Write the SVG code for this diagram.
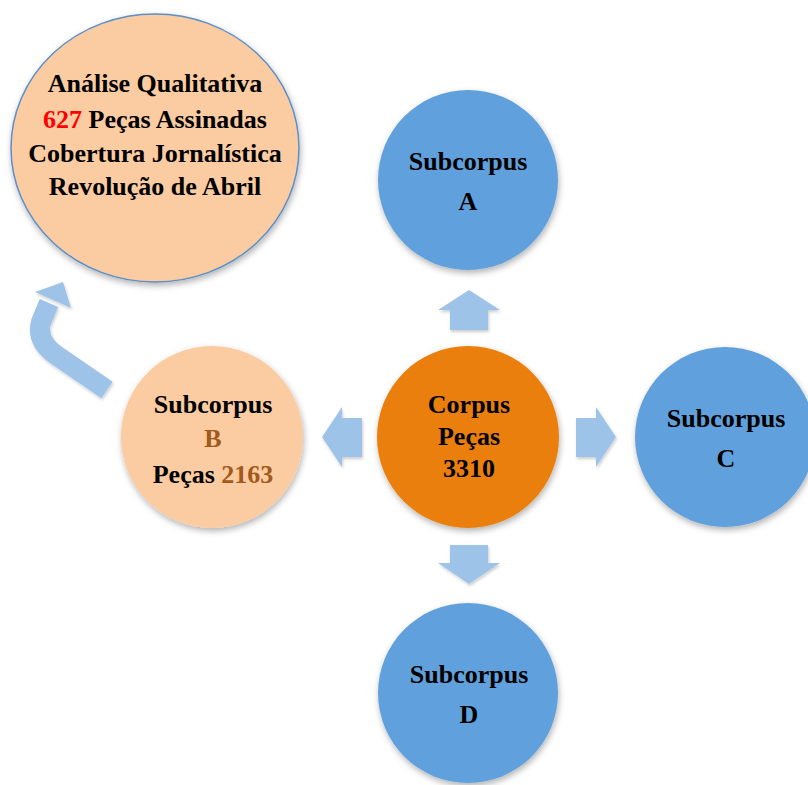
<svg xmlns="http://www.w3.org/2000/svg" width="808" height="785" viewBox="0 0 808 785">
  <defs>
    <filter id="shadow" x="-20%" y="-20%" width="140%" height="140%">
      <feDropShadow dx="1" dy="3" stdDeviation="3" flood-color="#000" flood-opacity="0.3"/>
    </filter>
    <filter id="arrowShadow" x="-20%" y="-20%" width="140%" height="140%">
      <feDropShadow dx="1" dy="2" stdDeviation="1.5" flood-color="#000" flood-opacity="0.2"/>
    </filter>
  </defs>
  <style>
    .lbl { font-family: "Liberation Serif", "Times New Roman", serif; font-weight: bold; font-size: 26px; fill: #000; text-anchor: middle; }
    .blue { fill: #61A0DC; filter: url(#shadow); }
    .peach { fill: #FBCBA1; filter: url(#shadow); }
    .orange { fill: #EA7F08; filter: url(#shadow); }
    .arrow { fill: #9EC3E8; filter: url(#arrowShadow); }
    .red { fill: #FF0000; }
    .brown { fill: #A15A1C; }
  </style>
  <rect width="808" height="785" fill="#FFFFFF"/>

  <!-- connectors -->
  <g id="connectors">
    <polygon class="arrow" points="469,290 500,310 488,310 488,330 450,330 450,310 438,310"/>
    <polygon class="arrow" points="322,437 342,407 342,418 362,418 362,457 342,457 342,467"/>
    <polygon class="arrow" points="616,437 596,407 596,418 576,418 576,457 596,457 596,467"/>
    <polygon class="arrow" points="469,584 500,563 488,563 488,545 450,545 450,563 438,563"/>
    <g filter="url(#arrowShadow)">
      <path d="M107,390 L56,355 Q36,341 41,322 L49,303" fill="none" stroke="#9EC3E8" stroke-width="20" stroke-linejoin="round"/>
      <polygon points="63,282 71,308 35,292" fill="#9EC3E8"/>
    </g>
  </g>

  <g id="analise">
    <ellipse cx="155" cy="148" rx="144" ry="134" fill="#FBCBA1" stroke="#5B8FC9" stroke-width="1.5" filter="url(#shadow)"/>
    <text class="lbl" x="155" y="92">Análise Qualitativa</text>
    <text class="lbl" x="155" y="128"><tspan class="red">627</tspan> Peças Assinadas</text>
    <text class="lbl" x="155" y="162">Cobertura Jornalística</text>
    <text class="lbl" x="155" y="195">Revolução de Abril</text>
  </g>

  <g id="subcorpus-a">
    <circle class="blue" cx="468" cy="180" r="90"/>
    <text class="lbl" x="468" y="170">Subcorpus</text>
    <text class="lbl" x="468" y="210">A</text>
  </g>

  <g id="subcorpus-b">
    <circle class="peach" cx="212" cy="437" r="91"/>
    <text class="lbl" x="213" y="413">Subcorpus</text>
    <text class="lbl brown" x="213" y="447">B</text>
    <text class="lbl" x="213" y="483">Peças <tspan class="brown">2163</tspan></text>
  </g>

  <g id="corpus">
    <circle class="orange" cx="468" cy="437" r="91"/>
    <text class="lbl" x="469" y="413">Corpus</text>
    <text class="lbl" x="469" y="445">Peças</text>
    <text class="lbl" x="469" y="477">3310</text>
  </g>

  <g id="subcorpus-c">
    <circle class="blue" cx="725" cy="437" r="90"/>
    <text class="lbl" x="726" y="427">Subcorpus</text>
    <text class="lbl" x="726" y="467">C</text>
  </g>

  <g id="subcorpus-d">
    <circle class="blue" cx="468" cy="693" r="90"/>
    <text class="lbl" x="469" y="683">Subcorpus</text>
    <text class="lbl" x="469" y="723">D</text>
  </g>
</svg>
